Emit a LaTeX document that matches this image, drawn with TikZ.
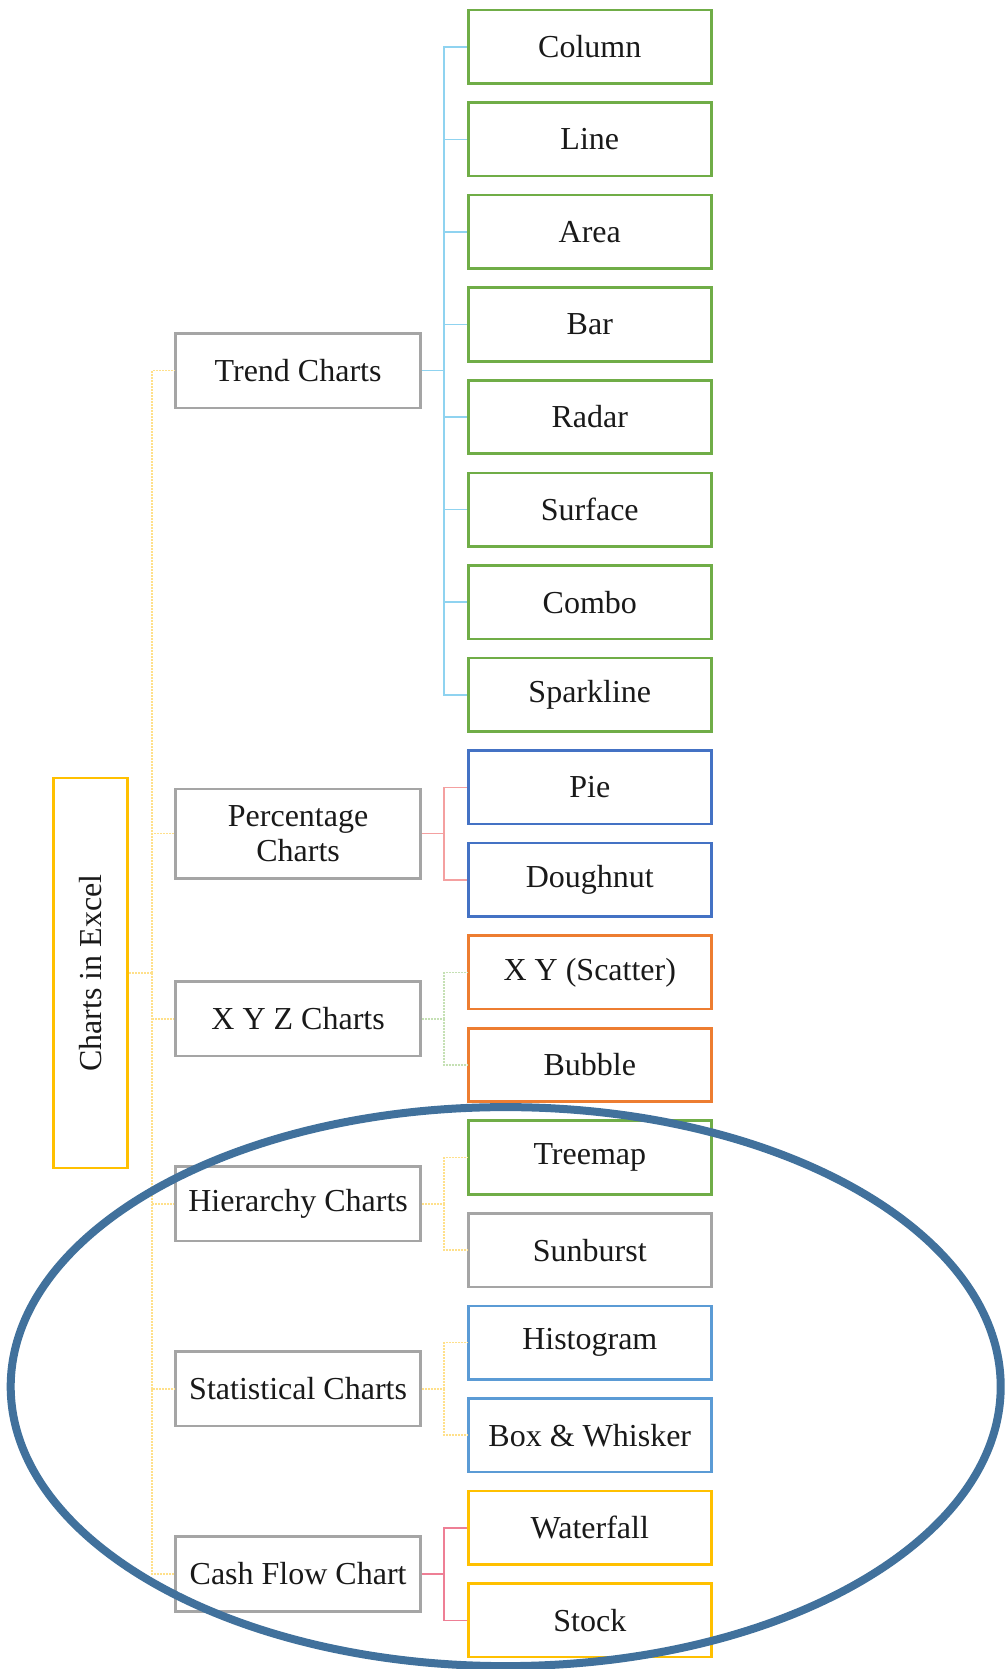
\documentclass[tikz,border=0pt]{standalone}
\usepackage{fontspec}
\setmainfont{Liberation Serif}
\definecolor{cgreen}{HTML}{70AD47}
\definecolor{cblue}{HTML}{4472C4}
\definecolor{corange}{HTML}{ED7D31}
\definecolor{cgold}{HTML}{FFC000}
\definecolor{clblue}{HTML}{5B9BD5}
\definecolor{cgray}{HTML}{A5A5A5}
\definecolor{cring}{HTML}{41719C}
\definecolor{ktrend}{HTML}{8FD3F0}
\definecolor{kpct}{HTML}{F4A0A0}
\definecolor{kxyz}{HTML}{C5E0B4}
\definecolor{kyel}{HTML}{FFE08A}
\definecolor{kcash}{HTML}{EE7F95}
\begin{document}
\begin{tikzpicture}[x=1pt,y=-1pt,
  box/.style={draw, line width=2.6pt, inner sep=0pt, text=black!90,
    font=\fontsize{32}{35}\selectfont, align=center},
  childbox/.style={box, minimum width=242.8pt, minimum height=73.5pt},
  midbox/.style={box, draw=cgray, minimum width=244.8pt, minimum height=74.5pt},
  dotcon/.style={line width=1.6pt, dash pattern=on 2pt off 1pt},
  solidcon/.style={line width=1.6pt},
  ring/.style={draw=cring, line width=8pt}]
\useasboundingbox (0,0) rectangle (1005,1669);

% root
\node[box, draw=cgold, rotate=90, minimum width=389.7pt, minimum height=74.5pt] (root) at (90.5,973) {Charts in Excel};

% middle nodes
\node[midbox] (trend) at (298.1,370.6) {Trend Charts};
\node[midbox, minimum height=89.4pt] (pct) at (298.1,833.6) {Percentage\\Charts};
\node[midbox] (xyz) at (298.1,1018.7) {X Y Z Charts};
\node[midbox] (hier) at (298.1,1203.8) {Hierarchy Charts};
\node[midbox] (stat) at (298.1,1388.9) {Statistical Charts};
\node[midbox] (cash) at (298.1,1574.0) {Cash Flow Chart};

% children
\node[childbox, draw=cgreen] (column) at (589.8,46.8) {Column};
\node[childbox, draw=cgreen] (line) at (589.8,139.4) {Line};
\node[childbox, draw=cgreen] (area) at (589.8,231.9) {Area};
\node[childbox, draw=cgreen] (bar) at (589.8,324.5) {Bar};
\node[childbox, draw=cgreen] (radar) at (589.8,417.0) {Radar};
\node[childbox, draw=cgreen] (surface) at (589.8,509.6) {Surface};
\node[childbox, draw=cgreen] (combo) at (589.8,602.2) {Combo};
\node[childbox, draw=cgreen] (spark) at (589.8,694.7) {Sparkline};
\node[childbox, draw=cblue] (pie) at (589.8,787.3) {Pie};
\node[childbox, draw=cblue] (dough) at (589.8,879.8) {Doughnut};
\node[childbox, draw=corange] (scatter) at (589.8,972.4) {X Y (Scatter)};
\node[childbox, draw=corange] (bubble) at (589.8,1065.0) {Bubble};
\node[childbox, draw=cgreen] (treemap) at (589.8,1157.5) {Treemap};
\node[childbox, draw=cgray] (sunburst) at (589.8,1250.1) {Sunburst};
\node[childbox, draw=clblue] (histo) at (589.8,1342.6) {Histogram};
\node[childbox, draw=clblue] (boxw) at (589.8,1435.2) {Box \& Whisker};
\node[childbox, draw=cgold] (water) at (589.8,1527.7) {Waterfall};
\node[childbox, draw=cgold] (stock) at (589.8,1620.3) {Stock};

% bus coordinates
\coordinate (rt) at (152.2,973);
\coordinate (tb) at (444,370.6);
\coordinate (pb) at (444,833.6);
\coordinate (xb) at (444,1018.7);
\coordinate (hb) at (444,1203.8);
\coordinate (sb) at (444,1388.9);
\coordinate (cb) at (444,1574.0);

% root connectors
\draw[dotcon, draw=kyel] (root.south) -- (rt)
  (rt) |- (trend.west) (rt) |- (pct.west) (rt) |- (xyz.west)
  (rt) |- (hier.west) (rt) |- (stat.west) (rt) |- (cash.west);

% group connectors
\draw[solidcon, draw=ktrend] (trend.east) -- (tb)
  (tb) |- (column.west) (tb) |- (line.west) (tb) |- (area.west)
  (tb) |- (bar.west) (tb) |- (radar.west) (tb) |- (surface.west)
  (tb) |- (combo.west) (tb) |- (spark.west);
\draw[solidcon, draw=kpct] (pct.east) -- (pb) (pb) |- (pie.west) (pb) |- (dough.west);
\draw[dotcon, draw=kxyz] (xyz.east) -- (xb) (xb) |- (scatter.west) (xb) |- (bubble.west);
\draw[dotcon, draw=kyel] (hier.east) -- (hb) (hb) |- (treemap.west) (hb) |- (sunburst.west);
\draw[dotcon, draw=kyel] (stat.east) -- (sb) (sb) |- (histo.west) (sb) |- (boxw.west);
\draw[solidcon, draw=kcash] (cash.east) -- (cb) (cb) |- (water.west) (cb) |- (stock.west);

% highlight ring
\draw[ring] (505.7,1386.6) ellipse [x radius=495, y radius=279.5];
\end{tikzpicture}
\end{document}
